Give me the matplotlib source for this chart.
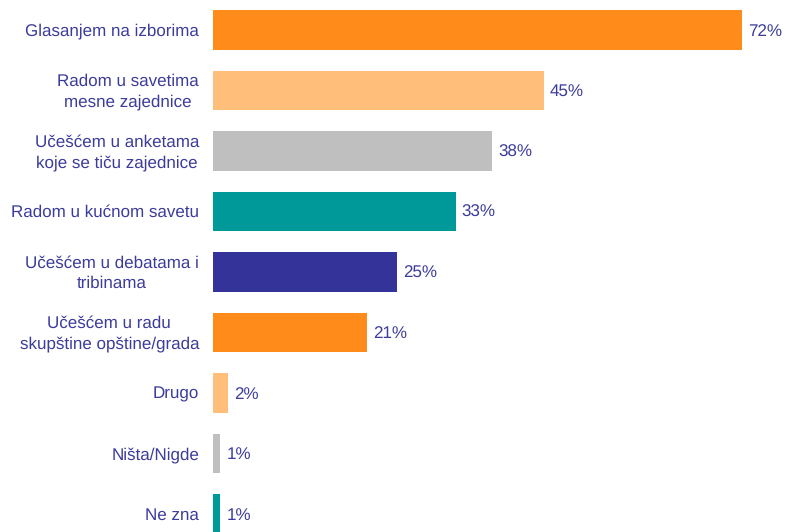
import matplotlib.pyplot as plt
import numpy as np

plt.rcParams["font.family"] = ["Liberation Sans", "DejaVu Sans"]
plt.rcParams["text.hinting"] = "none"
plt.rcParams["text.hinting_factor"] = 1

categories = [
    "Glasanjem na izborima",
    "Radom u savetima\nmesne zajednice",
    "Učešćem u anketama\nkoje se tiču zajednice",
    "Radom u kućnom savetu",
    "Učešćem u debatama i\ntribinama",
    "Učešćem u radu\nskupštine opštine/grada",
    "Drugo",
    "Ništa/Nigde",
    "Ne zna",
]
values = [72, 45, 38, 33, 25, 21, 2, 1, 1]
bar_colors = ["#FF8C1A", "#FFBF7A", "#BFBFBF", "#009999", "#333399",
              "#FF8C1A", "#FFBF7A", "#BFBFBF", "#009999"]
TEXT_COLOR = "#3C3C9C"
FONT_SIZE = 12.5

W, H = 787, 532
fig = plt.figure(figsize=(W / 100, H / 100), dpi=100)
left = 213
ax = fig.add_axes([left / W, 0, (W - left) / W, 1])

y = np.arange(len(categories))
ax.barh(y, values, height=0.66, color=bar_colors)

px_per_pct = 7.35
ax.set_xlim(0, (W - left) / px_per_pct)
ax.set_ylim((H - 30) / 60.5, -30 / 60.5)
ax.axis("off")

for yi, v, lab in zip(y, values, categories):
    ax.annotate(f"{v}%", (v, yi), xytext=(4.3, -1), textcoords="offset points",
                ha="left", va="center", fontsize=FONT_SIZE, color=TEXT_COLOR)
    ax.annotate(lab, (0, yi), xytext=(-10, -1), textcoords="offset points",
                ha="right", va="center", multialignment="center",
                fontsize=FONT_SIZE, color=TEXT_COLOR, annotation_clip=False,
                linespacing=1.4)

fig.savefig("out.png", dpi=100)
